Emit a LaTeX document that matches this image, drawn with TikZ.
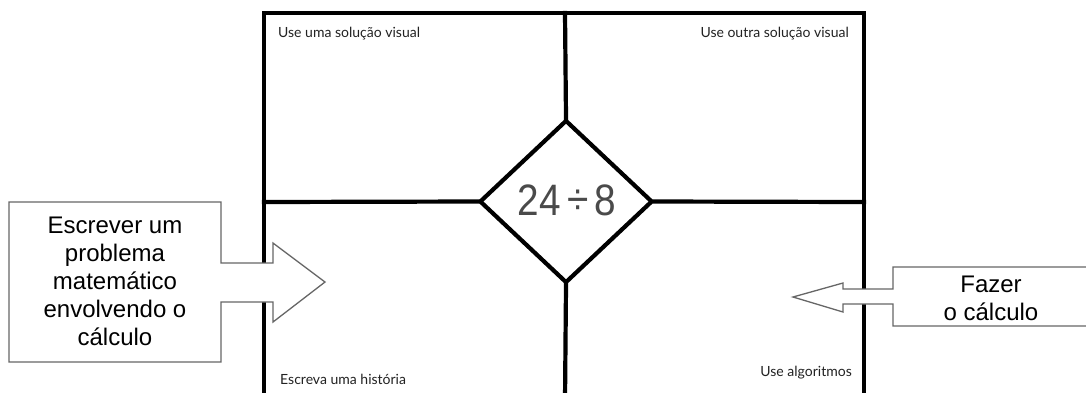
\documentclass[tikz,border=0pt]{standalone}
\usepackage{fontspec}
\setmainfont{Liberation Sans}
\newfontfamily\quadfont{Lato}
\usetikzlibrary{shapes.geometric}
\definecolor{calloutline}{HTML}{666666}
\definecolor{numgray}{HTML}{4A4A4A}
\definecolor{labelgray}{HTML}{222222}
\tikzset{
  frameline/.style={line width=4.2pt, black, line cap=rect},
  callout/.style={fill=white, draw=calloutline, line width=1.3pt, line join=miter},
  callouttext/.style={font=\fontsize{24}{28}\selectfont, align=center, text=black, inner sep=0pt},
  quadlabel/.style={font=\quadfont\fontsize{14}{16}\selectfont, text=labelgray, inner sep=0pt},
}
\begin{document}
\begin{tikzpicture}[x=1pt, y=-1pt]
\clip (0,0) rectangle (1086,392);
\fill[white] (0,0) rectangle (1086,392);
% frame
\coordinate (tl) at (264,13);
\coordinate (tr) at (864,13);
\coordinate (bl) at (264,400);
\coordinate (br) at (864,400);
\coordinate (tm) at (565,13);
\coordinate (bm) at (565,400);
\coordinate (lm) at (264,202);
\coordinate (rm) at (864,202);
\draw[frameline, line join=miter] (bl) -- (tl) -- (tr) -- (br);
% diamond
\node[diamond, draw, line width=4.2pt, minimum width=173pt, minimum height=163pt, inner sep=0pt, fill=white] (d) at (566,201.5) {};
\node[text=numgray, font=\fontsize{44}{48}\selectfont, inner sep=0pt] (num) at (567,200) {\scalebox{0.88}[1]{24\,\raisebox{0.5pt}{÷}\,8}};
\draw[frameline] (tm) -- (d.north);
\draw[frameline] (d.south) -- (bm);
\draw[frameline] (lm) -- (d.west);
\draw[frameline] (d.east) -- (rm);
% quadrant labels
\node[quadlabel, anchor=west] (q1) at (278,34) {Use uma solução visual};
\node[quadlabel, anchor=east] (q2) at (849,34) {Use outra solução visual};
\node[quadlabel, anchor=west] (q3) at (280,379) {Escreva uma história};
\node[quadlabel, anchor=east] (q4) at (852,373) {Use algoritmos};
% left callout
\draw[callout] (9,202) -- (221,202) -- (221,263) -- (273,263) -- (273,243) -- (325,282) -- (273,322) -- (273,302) -- (221,302) -- (221,362) -- (9,362) -- cycle;
\node[callouttext] (lc) at (115,281) {Escrever um\\problema\\matemático\\envolvendo o\\cálculo};
% right callout
\draw[callout] (1090,267) -- (893,267) -- (893,289) -- (843,289) -- (843,283) -- (793,297) -- (843,312) -- (843,304) -- (893,304) -- (893,326) -- (1090,326);
\node[callouttext] (rc) at (991,298) {Fazer\\o cálculo};
\end{tikzpicture}
\end{document}
